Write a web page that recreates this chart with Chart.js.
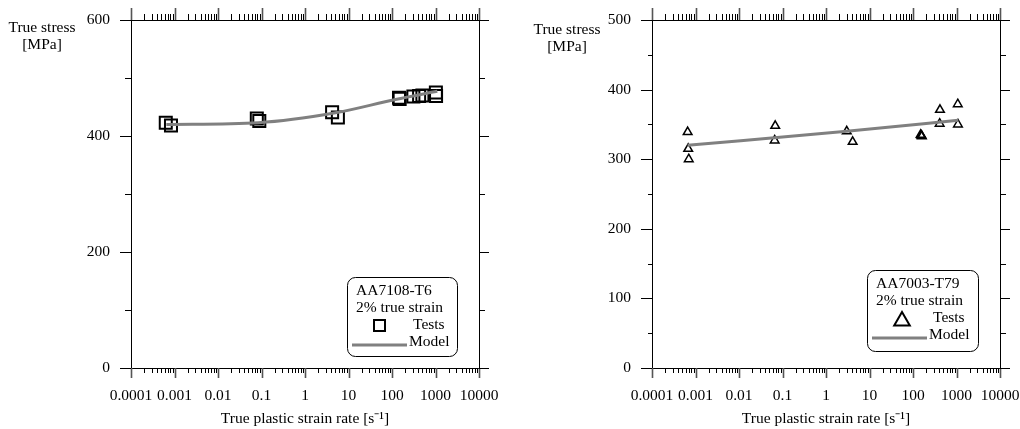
<!DOCTYPE html>
<html>
<head>
<meta charset="utf-8">
<script src="https://cdn.jsdelivr.net/npm/chart.js@4.4.0/dist/chart.umd.min.js"></script>
<style>
  html, body { margin: 0; padding: 0; background: #fff; }
  #wrap { width: 1020px; height: 429px; display: flex; }
  .caja { position: relative; width: 510px; height: 429px; }
</style>
</head>
<body>
<div id="wrap">
  <div class="caja"><canvas id="graficoA"></canvas></div>
  <div class="caja"><canvas id="graficoB"></canvas></div>
</div>
<script>
// valores del eje x (log) y sus etiquetas
const decadas = [0.0001, 0.001, 0.01, 0.1, 1, 10, 100, 1000, 10000];
const etiquetasX = ["0.0001", "0.001", "0.01", "0.1", "1", "10", "100", "1000", "10000"];

// AA7108-T6 (izquierda)
const tasaA = [0.00063, 0.00083, 0.078, 0.089, 4.2, 5.7, 145, 150, 310, 420, 500, 1020, 1030];
const tensionA = [423, 418, 430, 426, 441, 432, 466, 464, 468, 469, 470, 475, 469];
const tasaModeloA = [0.00065, 0.085, 5, 120, 1100];
const tensionModeloA = [420, 423, 440, 463, 477];
const ticksYA = [0, 200, 400, 600];

// AA7003-T79 (derecha)
const tasaB = [0.00066, 0.00068, 0.0007, 0.068, 0.066, 3.0, 4.1, 150, 155, 160, 417, 410, 1070, 1080];
const tensionB = [339, 315, 300, 348, 327, 340, 325, 335, 334, 333, 371, 351, 379, 350];
const tasaModeloB = [0.00066, 3, 1100];
const tensionModeloB = [320, 340, 356];
const ticksYB = [0, 100, 200, 300, 400, 500];

const fuente = "'Liberation Serif', 'Times New Roman', serif";
const tam = 15.5;
Chart.defaults.font.family = fuente;
Chart.defaults.font.size = tam;
Chart.defaults.color = "#000";

const juntar = (xs, ys) => xs.map((v, i) => ({ x: v, y: ys[i] }));

// dibuja marco, ticks, titulo del eje y y la leyenda
const marco = {
  id: "marco",
  afterDraw(chart, args, o) {
    const { ctx, chartArea: a, scales: { x, y } } = chart;
    ctx.save();
    ctx.strokeStyle = "#000";
    ctx.lineWidth = 1;
    ctx.strokeRect(a.left + 0.5, a.top + 0.5, a.right - a.left, a.bottom - a.top);

    // ticks del eje x arriba y abajo
    for (let k = -4; k <= 4; k++) {
      for (let m = 1; m <= 9; m++) {
        const v = m * Math.pow(10, k);
        if (v > 10001) break;
        const px = Math.round(x.getPixelForValue(v)) + 0.5;
        const mayor = m === 1;
        ctx.beginPath();
        ctx.strokeStyle = mayor ? "#555" : "#000";
        ctx.lineWidth = mayor ? 1.6 : 1;
        ctx.moveTo(px, a.bottom);
        ctx.lineTo(px, a.bottom + (mayor ? 10 : 5));
        ctx.moveTo(px, a.top);
        ctx.lineTo(px, a.top - (mayor ? 12 : 6));
        ctx.stroke();
      }
    }

    // ticks del eje y a los dos lados
    ctx.strokeStyle = "#000";
    ctx.lineWidth = 1;
    for (let v = 0; v <= o.yMax; v += o.paso) {
      const py = Math.round(y.getPixelForValue(v)) + 0.5;
      const mayor = v % o.pasoMayor === 0;
      ctx.beginPath();
      ctx.moveTo(a.left, py);
      ctx.lineTo(a.left - (mayor ? 11 : o.menorIzq), py);
      ctx.moveTo(a.right, py);
      ctx.lineTo(a.right + (mayor ? 10 : 6), py);
      ctx.stroke();
    }

    // titulo eje y
    ctx.fillStyle = "#000";
    ctx.font = tam + "px " + fuente;
    ctx.textAlign = "center";
    ctx.textBaseline = "middle";
    ctx.fillText("True stress", o.tituloX, o.tituloY);
    ctx.fillText("[MPa]", o.tituloX, o.tituloY + 17);

    // leyenda
    const L = o.leyenda;
    ctx.beginPath();
    ctx.roundRect(L.x + 0.5, L.y + 0.5, L.w, L.h, 8);
    ctx.fillStyle = "#fff";
    ctx.fill();
    ctx.stroke();
    ctx.fillStyle = "#000";
    ctx.textAlign = "left";
    ctx.fillText(L.nombre, L.x + 9, L.y + 14);
    ctx.fillText("2% true strain", L.x + 9, L.y + 31);
    ctx.fillText("Tests", L.x + 66, L.y + 48);
    ctx.fillText("Model", L.x + 62, L.y + 65);
    ctx.lineWidth = 2;
    if (L.marca === "rect") {
      ctx.strokeRect(L.x + 27, L.y + 43, 11, 11);
    } else {
      const cx = L.x + 35, cy = L.y + 51, r = 9;
      ctx.beginPath();
      ctx.moveTo(cx, cy - r);
      ctx.lineTo(cx + r * 0.866, cy + r / 2);
      ctx.lineTo(cx - r * 0.866, cy + r / 2);
      ctx.closePath();
      ctx.stroke();
    }
    ctx.beginPath();
    ctx.strokeStyle = "#808080";
    ctx.lineWidth = 3;
    ctx.moveTo(L.x + 5, L.y + 68);
    ctx.lineTo(L.x + 60, L.y + 68);
    ctx.stroke();
    ctx.restore();
  }
};

const crearGrafico = (id, c) => {
  return new Chart(document.getElementById(id), {
    type: "scatter",
    data: {
      datasets: [
        {
          label: "Model",
          data: juntar(c.tasaModelo, c.tensionModelo),
          showLine: true,
          pointRadius: 0,
          borderColor: "#808080",
          borderWidth: 3,
          cubicInterpolationMode: "monotone"
        },
        {
          label: "Tests",
          data: juntar(c.tasa, c.tension),
          pointStyle: c.marca,
          pointRadius: c.radio,
          borderColor: "#000",
          borderWidth: c.grosor,
          backgroundColor: "rgba(0,0,0,0)"
        }
      ]
    },
    options: {
      responsive: true,
      maintainAspectRatio: false,
      animation: false,
      layout: { autoPadding: false, padding: { left: 0, right: c.derecha, top: 20, bottom: 0 } },
      plugins: { legend: { display: false }, tooltip: { enabled: false }, marco: c.marco },
      scales: {
        x: {
          type: "logarithmic",
          min: 0.0001,
          max: 10000,
          grid: { display: false, drawTicks: false },
          border: { display: false },
          afterBuildTicks: (s) => { s.ticks = decadas.map((v) => ({ value: v })); },
          afterFit: (s) => { s.height = 61; s.paddingLeft = 0; s.paddingRight = 0; },
          ticks: {
            padding: 19,
            maxRotation: 0,
            autoSkip: false,
            callback: (v, i) => etiquetasX[i]
          },
          title: { display: true, text: "True plastic strain rate [s⁻¹]", padding: { top: 0, bottom: 1 } }
        },
        y: {
          min: 0,
          max: c.marco.yMax,
          grid: { display: false, drawTicks: false },
          border: { display: false },
          afterBuildTicks: (s) => { s.ticks = c.ticksY.map((v) => ({ value: v })); },
          afterFit: (s) => { s.width = c.anchoY; s.paddingTop = 0; s.paddingBottom = 0; },
          ticks: { padding: 21 }
        }
      }
    },
    plugins: [marco]
  });
};

crearGrafico("graficoA", {
  tasa: tasaA, tension: tensionA,
  tasaModelo: tasaModeloA, tensionModelo: tensionModeloA,
  ticksY: ticksYA, marca: "rect", radio: 8.5, grosor: 2,
  anchoY: 131, derecha: 31,
  marco: {
    yMax: 600, paso: 100, pasoMayor: 200, menorIzq: 6,
    tituloX: 42, tituloY: 28,
    leyenda: { x: 347, y: 277, w: 110, h: 79, nombre: "AA7108-T6", marca: "rect" }
  }
});

crearGrafico("graficoB", {
  tasa: tasaB, tension: tensionB,
  tasaModelo: tasaModeloB, tensionModelo: tensionModeloB,
  ticksY: ticksYB, marca: "triangle", radio: 5, grosor: 1.5,
  anchoY: 142, derecha: 20,
  marco: {
    yMax: 500, paso: 50, pasoMayor: 100, menorIzq: 4,
    tituloX: 57, tituloY: 30,
    leyenda: { x: 357, y: 270, w: 111, h: 81, nombre: "AA7003-T79", marca: "triangle" }
  }
});
</script>
</body>
</html>
